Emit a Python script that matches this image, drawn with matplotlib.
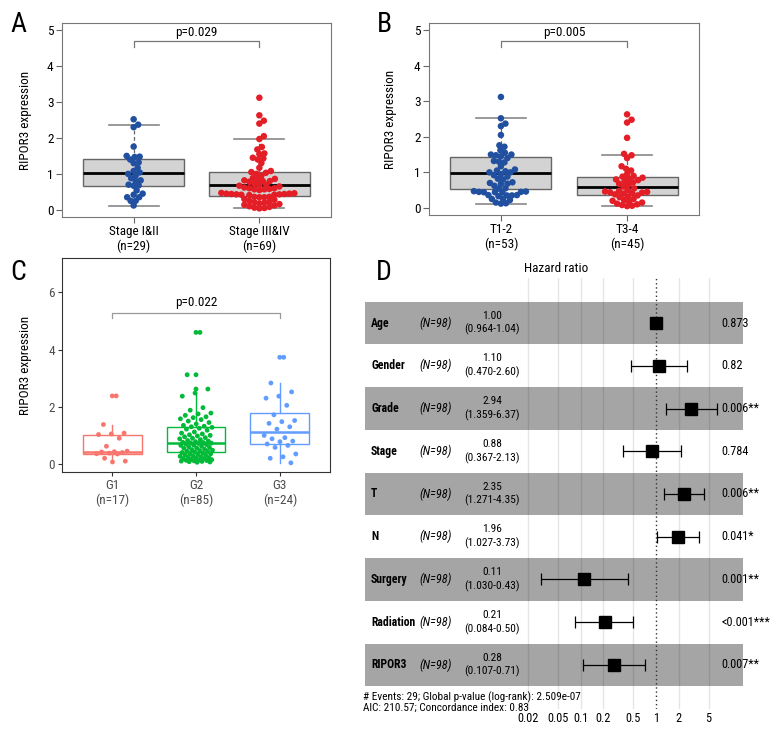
import numpy as np
import matplotlib
matplotlib.use('Agg')
import matplotlib.pyplot as plt
import matplotlib.transforms as mtransforms
from matplotlib.ticker import NullLocator
from matplotlib import font_manager

# condensed font if one is installed, else Liberation Sans with smaller table text
avail = {f.name for f in font_manager.fontManager.ttflist}
fam = 'Liberation Sans'
for name in ['Roboto Condensed', 'Liberation Sans Narrow', 'DejaVu Sans Condensed']:
    if name in avail:
        fam = name
        break
narrow = fam != 'Liberation Sans'
plt.rcParams['font.family'] = [fam, 'DejaVu Sans']
k = 1.0 if narrow else 0.85

# ---------------- data ----------------
# panel A: stage
a_labels = ['Stage I&II\n(n=29)', 'Stage III&IV\n(n=69)']
a_stage12 = [2.52, 2.37, 2.30, 1.76, 1.50, 1.48, 1.47, 1.40, 1.32, 1.30, 1.17, 1.08,
             1.04, 1.00, 0.95, 0.88, 0.82, 0.80, 0.70, 0.68, 0.67, 0.54, 0.45, 0.42,
             0.35, 0.35, 0.25, 0.25, 0.12]
a_stage34 = [3.12, 2.63, 2.48, 2.40, 2.05, 1.97, 1.75, 1.68, 1.57, 1.55,
             1.45, 1.43, 1.40, 1.30, 1.17, 1.08, 1.05, 1.03, 1.00, 0.95,
             0.88, 0.86, 0.84, 0.82, 0.80, 0.80, 0.78, 0.72, 0.70, 0.69,
             0.67, 0.65, 0.62, 0.60, 0.60, 0.58, 0.57, 0.57, 0.55, 0.47,
             0.46, 0.45, 0.45, 0.44, 0.44, 0.43, 0.43, 0.42, 0.42, 0.41,
             0.36, 0.36, 0.35, 0.35, 0.30, 0.28, 0.25, 0.22, 0.21, 0.20,
             0.18, 0.16, 0.14, 0.12, 0.10, 0.08, 0.06, 0.05, 0.04]
a_q1 = [0.66, 0.38]
a_med = [1.02, 0.70]
a_q3 = [1.41, 1.04]
a_lo = [0.12, 0.04]
a_hi = [2.37, 1.97]
a_p = 'p=0.029'

# panel B: T stage
b_labels = ['T1-2\n(n=53)', 'T3-4\n(n=45)']
b_t12 = [3.12, 2.52, 2.37, 2.30, 2.05, 1.76, 1.72, 1.62, 1.55, 1.50,
         1.50, 1.48, 1.45, 1.40, 1.32, 1.30, 1.28, 1.17, 1.08, 1.05,
         1.03, 1.00, 1.00, 0.95, 0.92, 0.88, 0.82, 0.80, 0.72, 0.70,
         0.68, 0.67, 0.62, 0.55, 0.54, 0.47, 0.46, 0.45, 0.45, 0.44,
         0.44, 0.43, 0.36, 0.36, 0.35, 0.35, 0.33, 0.25, 0.25, 0.22,
         0.15, 0.13, 0.12]
b_t34 = [2.63, 2.48, 2.40, 1.97, 1.52, 1.48, 1.40, 1.17, 1.10, 1.05,
         0.95, 0.90, 0.88, 0.85, 0.82, 0.80, 0.78, 0.75, 0.72, 0.68,
         0.65, 0.60, 0.55, 0.50, 0.48, 0.46, 0.45, 0.44, 0.43, 0.42,
         0.40, 0.38, 0.35, 0.32, 0.30, 0.25, 0.22, 0.20, 0.18, 0.15,
         0.12, 0.10, 0.08, 0.06, 0.05]
b_q1 = [0.53, 0.35]
b_med = [0.99, 0.60]
b_q3 = [1.43, 0.87]
b_lo = [0.12, 0.05]
b_hi = [2.52, 1.50]
b_p = 'p=0.005'

# panel C: grade
c_labels = ['G1\n(n=17)', 'G2\n(n=85)', 'G3\n(n=24)']
c_g1 = [2.38, 1.38, 1.08, 1.05, 1.03, 0.90, 0.62, 0.45, 0.43, 0.42, 0.40, 0.38,
        0.36, 0.35, 0.20, 0.10, 0.07]
c_g2 = [4.60, 3.12, 2.62, 2.48, 2.37, 1.97, 1.88, 1.78, 1.75, 1.70,
        1.65, 1.62, 1.58, 1.55, 1.50, 1.45, 1.40, 1.35, 1.32, 1.30,
        1.28, 1.25, 1.22, 1.18, 1.12, 1.08, 1.05, 1.02, 1.00, 0.98,
        0.95, 0.92, 0.90, 0.88, 0.85, 0.82, 0.80, 0.78, 0.76, 0.75,
        0.74, 0.73, 0.72, 0.70, 0.68, 0.66, 0.65, 0.62, 0.60, 0.58,
        0.56, 0.55, 0.52, 0.50, 0.48, 0.47, 0.45, 0.44, 0.42, 0.40,
        0.38, 0.36, 0.35, 0.33, 0.32, 0.30, 0.28, 0.27, 0.25, 0.24,
        0.22, 0.20, 0.19, 0.18, 0.16, 0.15, 0.14, 0.13, 0.12, 0.11,
        0.10, 0.09, 0.08, 0.07, 0.06]
c_g3 = [3.73, 2.83, 2.52, 2.37, 2.30, 2.05, 1.72, 1.52, 1.48, 1.42, 1.30, 1.22,
        1.00, 0.92, 0.88, 0.80, 0.78, 0.70, 0.65, 0.58, 0.35, 0.25, 0.20, 0.04]
c_q1 = [0.36, 0.42, 0.70]
c_med = [0.42, 0.74, 1.12]
c_q3 = [1.02, 1.29, 1.78]
c_lo = [0.07, 0.06, 0.04]
c_hi = [1.38, 2.48, 2.83]
c_out = [[2.38], [4.60, 3.12, 2.62], [3.73]]
c_p = 'p=0.022'

# panel D: multivariate Cox model
d_vars = ['Age', 'Gender', 'Grade', 'Stage', 'T', 'N', 'Surgery', 'Radiation', 'RIPOR3']
d_hr = [1.00, 1.10, 2.94, 0.88, 2.35, 1.96, 0.11, 0.21, 0.28]
d_lo = [0.964, 0.470, 1.359, 0.367, 1.271, 1.027, 0.030, 0.084, 0.107]
d_hi = [1.04, 2.60, 6.37, 2.13, 4.35, 3.73, 0.43, 0.50, 0.71]
d_ci_text = ['(0.964-1.04)', '(0.470-2.60)', '(1.359-6.37)', '(0.367-2.13)',
             '(1.271-4.35)', '(1.027-3.73)', '(1.030-0.43)', '(0.084-0.50)',
             '(0.107-0.71)']
d_p = ['0.873', '0.82', '0.006**', '0.784', '0.006**', '0.041*', '0.001**',
       '<0.001***', '0.007**']
d_ticks = [0.02, 0.05, 0.1, 0.2, 0.5, 1, 2, 5]
d_tick_labels = ['0.02', '0.05', '0.1', '0.2', '0.5', '1', '2', '5']

BLUE = '#2150A0'
RED = '#E41E26'
GG = ['#F8766D', '#00BA38', '#619CFF']

W, H = 780, 744
fig = plt.figure(figsize=(W / 100, H / 100), dpi=100)


def frac(x0, y0, x1, y1):
    return [x0 / W, 1 - y1 / H, (x1 - x0) / W, (y1 - y0) / H]


def swarm(vals, ax, spacing=5.0):
    # simple beeswarm: place points low to high, as close to centre as possible
    ypx = ax.bbox.height / abs(np.diff(ax.get_ylim())[0])
    xpx = ax.bbox.width / abs(np.diff(ax.get_xlim())[0])
    vals = np.asarray(vals)
    xs = np.zeros(len(vals))
    px, py = [], []
    for i in np.argsort(vals):
        y = vals[i] * ypx
        step = 0
        while True:
            done = False
            for cx in ([0.0] if step == 0 else [step * 0.5, -step * 0.5]):
                if all((cx - a) ** 2 + (y - b) ** 2 >= spacing ** 2 for a, b in zip(px, py)):
                    done = True
                    break
            if done:
                break
            step += 1
        px.append(cx)
        py.append(y)
        xs[i] = cx / xpx
    return xs


def base_box(ax, labels, groups, q1, med, q3, lo, hi, colors, ptext, lab_x):
    ax.set_xlim(0.43, 2.57)
    ax.set_ylim(-0.2, 5.2)
    stats = [dict(q1=q1[i], med=med[i], q3=q3[i], whislo=lo[i], whishi=hi[i], fliers=[])
             for i in range(2)]
    ax.bxp(stats, positions=[1, 2], widths=0.8, capwidths=0.4, patch_artist=True,
           boxprops=dict(facecolor='#D3D3D3', edgecolor='#666666', lw=1),
           medianprops=dict(color='black', lw=2),
           whiskerprops=dict(color='#666666', ls=(0, (3, 2)), lw=0.9),
           capprops=dict(color='#888888', lw=1.2))
    for i, g in enumerate(groups):
        xs = swarm(g, ax)
        ax.scatter(i + 1 + xs, g, s=22, color=colors[i], edgecolors='none', zorder=4)
    ax.plot([1, 1, 2, 2], [4.53, 4.69, 4.69, 4.53], color='#777777', lw=0.9)
    ax.text(1.5, 4.94, ptext, ha='center', va='center', fontsize=9.5)
    ax.set_xticks([1, 2])
    ax.set_xticklabels(labels, fontsize=9.5, linespacing=1.15)
    ax.set_yticks(range(6))
    ax.tick_params(labelsize=9.5, length=4, color='#666666', pad=2)
    for s in ax.spines.values():
        s.set_color('#777777')
    ax.set_ylabel('RIPOR3 expression', fontsize=9.5)
    ax.yaxis.set_label_coords(lab_x, 0.5)


# ---------------- A ----------------
axa = fig.add_axes(frac(62, 23, 331, 217))
base_box(axa, a_labels, [a_stage12, a_stage34], a_q1, a_med, a_q3, a_lo, a_hi,
         [BLUE, RED], a_p, -0.11)

# ---------------- B ----------------
axb = fig.add_axes(frac(429, 23, 699, 215))
base_box(axb, b_labels, [b_t12, b_t34], b_q1, b_med, b_q3, b_lo, b_hi,
         [BLUE, RED], b_p, -0.118)

# ---------------- C ----------------
axc = fig.add_axes(frac(62, 258, 330, 472))
axc.set_xlim(0.4, 3.6)
axc.set_ylim(-0.28, 7.2)
c_stats = [dict(q1=c_q1[i], med=c_med[i], q3=c_q3[i], whislo=c_lo[i], whishi=c_hi[i],
                fliers=[]) for i in range(3)]
bp = axc.bxp(c_stats, positions=[1, 2, 3], widths=0.7, showcaps=False, patch_artist=True)
for i in range(3):
    bp['boxes'][i].set(facecolor='none', edgecolor=GG[i], lw=1)
    bp['medians'][i].set(color=GG[i], lw=1.8)
    for w in bp['whiskers'][2 * i:2 * i + 2]:
        w.set(color=GG[i], lw=1)
for i, g in enumerate([c_g1, c_g2, c_g3]):
    n = np.arange(1, len(g) + 1)
    jit = ((n * 0.6180339887) % 1 - 0.5) * 0.4
    axc.scatter(i + 1 + jit, g, s=12, color=GG[i], edgecolors='none', zorder=4)
    axc.scatter(np.full(len(c_out[i]), i + 1), c_out[i], s=12, color=GG[i],
                edgecolors='none', zorder=4)
axc.plot([1, 1, 3, 3], [5.1, 5.28, 5.28, 5.1], color='#999999', lw=0.9)
axc.text(2, 5.66, c_p, ha='center', va='center', fontsize=9.5)
axc.set_xticks([1, 2, 3])
axc.set_xticklabels(c_labels, fontsize=9.5, linespacing=1.15)
axc.set_yticks([0, 2, 4, 6])
axc.tick_params(labelsize=9.5, length=3, color='#333333', labelcolor='#4D4D4D', pad=2)
for s in axc.spines.values():
    s.set_color('#333333')
axc.set_ylabel('RIPOR3 expression', fontsize=9.5)
axc.yaxis.set_label_coords(-0.112, 0.5)

# ---------------- D ----------------
axd = fig.add_axes(frac(365, 278, 743, 709))
axd.set_xscale('log')
dec = 128 / np.log10(50)
axd.set_xlim(10 ** (np.log10(0.02) - 163 / dec), 10 ** (87 / dec))
axd.set_ylim(9.03, -1.053)
rows = np.arange(len(d_vars))
for i in rows:
    if i % 2 == 0:
        axd.axhspan(i - 0.5, i + 0.5, color='#A5A5A5', lw=0, zorder=0)
for t in d_ticks:
    if t != 1:
        axd.axvline(t, color='black', alpha=0.1, lw=1, zorder=1)
axd.axvline(1, color='#333333', ls=(0, (1, 2)), lw=1, zorder=2)
hr = np.array(d_hr)
axd.errorbar(hr, rows, xerr=[hr - np.array(d_lo), np.array(d_hi) - hr], fmt='s',
             color='black', ms=8, capsize=4.5, elinewidth=0.9, capthick=0.9, zorder=5)
tr = mtransforms.blended_transform_factory(axd.transAxes, axd.transData)
for i in rows:
    axd.text(0.016, i, d_vars[i], transform=tr, ha='left', va='center',
             fontsize=8.5 * k, fontweight='bold')
    axd.text(0.145, i, '(N=98)', transform=tr, ha='left', va='center',
             fontsize=8.8 * k, fontstyle='italic')
    axd.text(0.336, i, f'{d_hr[i]:.2f}\n{d_ci_text[i]}', transform=tr, ha='center',
             va='center', fontsize=8.2 * k, linespacing=1.35)
    axd.text(0.943, i, d_p[i], transform=tr, ha='left', va='center', fontsize=8.8 * k)
axd.set_xticks(d_ticks)
axd.set_xticklabels(d_tick_labels)
axd.xaxis.set_minor_locator(NullLocator())
axd.set_yticks([])
axd.tick_params(axis='x', length=0, pad=2, labelsize=8.8 * k)
for s in axd.spines.values():
    s.set_visible(False)
fig.text(556 / W, 1 - 268 / H, 'Hazard ratio', ha='center', va='center', fontsize=9.5)
fig.text(363 / W, 1 - 697 / H, '# Events: 29; Global p-value (log-rank): 2.509e-07',
         ha='left', va='center', fontsize=8.1 * k)
fig.text(363 / W, 1 - 708 / H, 'AIC: 210.57; Concordance index: 0.83',
         ha='left', va='center', fontsize=8.1 * k)

# panel letters
for lab, x, y in [('A', 18, 24), ('B', 384, 24), ('C', 18, 272), ('D', 384, 272)]:
    fig.text(x / W, 1 - y / H, lab, ha='center', va='center', fontsize=20)

fig.savefig('out.png', dpi=100)
